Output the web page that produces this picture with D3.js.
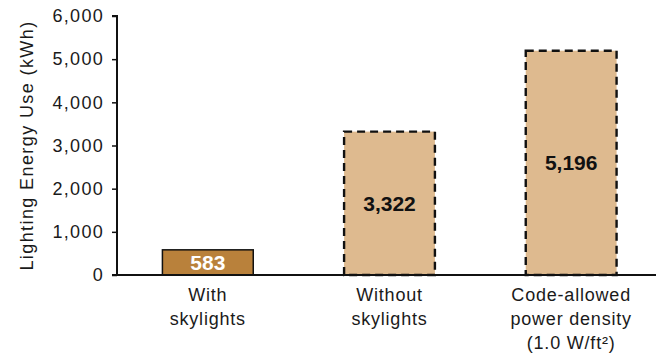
<!DOCTYPE html>
<html>
<head>
<meta charset="utf-8">
<script src="https://cdn.jsdelivr.net/npm/d3@7"></script>
<style>
  body { margin: 0; background: #fff; }
  svg text { font-family: "Liberation Sans", Arial, sans-serif; }
</style>
</head>
<body>
<svg id="chart" width="656" height="358"></svg>
<script>
// data
let categories = [["With", "skylights"], ["Without", "skylights"], ["Code-allowed", "power density", "(1.0 W/ft²)"]];
let values = [583, 3322, 5196];
let valueLabels = ["583", "3,322", "5,196"];
let yTicks = [0, 1000, 2000, 3000, 4000, 5000, 6000];

let svg = d3.select("#chart");
let plotLeft = 117, plotRight = 662, plotTop = 16, plotBottom = 275;
let textColor = "#1a1a1a";

let x = d3.scaleBand()
  .domain(d3.range(values.length))
  .range([plotLeft, plotRight])
  .paddingInner(0.5)
  .paddingOuter(0.25);

let y = d3.scaleLinear()
  .domain([0, 6000])
  .range([plotBottom, plotTop]);

// bars
svg.selectAll(".bar")
  .data(values)
  .enter()
  .append("rect")
  .attr("x", (d, i) => x(i))
  .attr("y", d => y(d))
  .attr("width", x.bandwidth())
  .attr("height", d => plotBottom - y(d))
  .attr("fill", (d, i) => i == 0 ? "#B9813B" : "#DEBA8F")
  .attr("stroke", "#111")
  .attr("stroke-width", (d, i) => i == 0 ? 1.5 : 2.4)
  .attr("stroke-dasharray", (d, i) => i == 0 ? null : "8,5");

// value labels
svg.selectAll(".val")
  .data(values)
  .enter()
  .append("text")
  .attr("x", (d, i) => x(i) + x.bandwidth()/2)
  .attr("y", d => (y(d) + plotBottom)/2)
  .attr("dy", "0.36em")
  .attr("text-anchor", "middle")
  .style("font-weight", "bold")
  .style("font-size", "21px")
  .style("fill", (d, i) => i == 0 ? "#fff" : "#111")
  .text((d, i) => valueLabels[i]);

// y axis
let yAxis = svg.append("g")
  .attr("transform", "translate(" + plotLeft + ",0)")
  .call(d3.axisLeft(y).tickValues(yTicks).tickSize(5).tickFormat(d3.format(",")));
yAxis.select(".domain").attr("stroke", "#111").attr("stroke-width", 2).attr("d", "M-5," + plotTop + "H0V" + plotBottom + "H-5");
yAxis.selectAll(".tick line").attr("stroke", "#111").attr("stroke-width", 1.5);
yAxis.selectAll("text")
  .attr("x", -13)
  .style("font-size", "18px")
  .style("letter-spacing", "1.3px")
  .style("font-family", "Liberation Sans, Arial, sans-serif")
  .style("fill", textColor);

// x axis baseline
svg.append("line")
  .attr("x1", plotLeft).attr("x2", 656)
  .attr("y1", plotBottom).attr("y2", plotBottom)
  .attr("stroke", "#111").attr("stroke-width", 2);

// category labels
categories.forEach((lines, i) => {
  let t = svg.append("text")
    .attr("text-anchor", "middle")
    .style("font-size", "18px")
    .style("letter-spacing", "0.8px")
    .style("fill", textColor);
  lines.forEach((line, j) => {
    t.append("tspan")
      .attr("x", x(i) + x.bandwidth()/2)
      .attr("y", 301 + j*24)
      .text(line);
  });
});

// y axis title
svg.append("text")
  .attr("transform", "translate(33," + ((plotTop + plotBottom)/2) + ") rotate(-90)")
  .attr("text-anchor", "middle")
  .style("font-size", "18px")
  .style("letter-spacing", "1.4px")
  .style("fill", textColor)
  .text("Lighting Energy Use (kWh)");
</script>
</body>
</html>
